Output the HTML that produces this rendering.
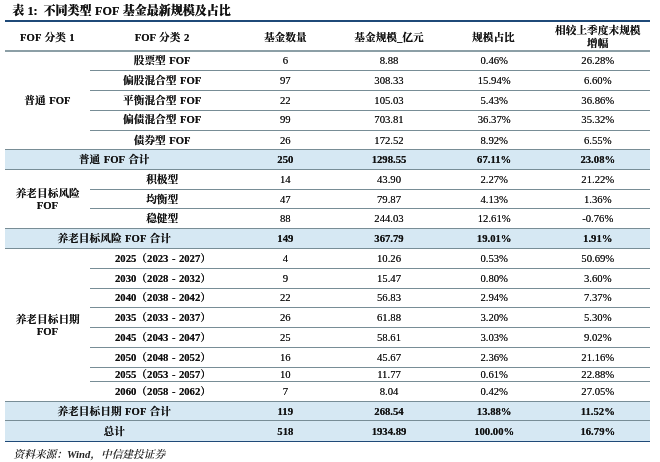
<!DOCTYPE html>
<html lang="zh-CN">
<head>
<meta charset="utf-8">
<title>表 1</title>
<style>
html,body{margin:0;padding:0;background:#fff;}
body{width:660px;height:462px;position:relative;overflow:hidden;font-family:"Liberation Serif","Noto Serif CJK SC",serif;color:#111;}
.t{position:absolute;text-align:center;text-shadow:0 0 0.5px rgba(0,0,0,0.75);font-size:10.7px;white-space:nowrap;}
.b{font-weight:bold;word-spacing:0.8px;}
.h{position:absolute;height:1.15px;background:#788d96;}
.hk{position:absolute;height:1.6px;background:#1f4a78;}
.band{position:absolute;background:#d6e8f3;}
.title span{position:absolute;top:0;text-shadow:0 0 0.5px rgba(0,0,0,0.7);}
.title span.l{font-size:12.2px;}
.title{position:absolute;left:0;top:3.3px;line-height:16px;font-size:12px;font-weight:900;white-space:nowrap;color:#111;font-family:"Liberation Serif","Noto Serif CJK SC",serif;}
.src{position:absolute;left:13.5px;top:446.6px;line-height:14px;font-size:10.7px;font-weight:600;font-style:italic;white-space:nowrap;color:#222;}
</style>
</head>
<body>
<div class="band" style="left:5.3px;top:149.6px;width:645.2px;height:19.70px"></div>
<div class="band" style="left:5.3px;top:228.6px;width:645.2px;height:19.70px"></div>
<div class="band" style="left:5.3px;top:401.4px;width:645.2px;height:19.40px"></div>
<div class="band" style="left:5.3px;top:420.8px;width:645.2px;height:20.20px"></div>
<div class="h" style="left:5.3px;top:50.0px;width:645.2px;height:1.5px;background:#8c9fa6"></div>
<div class="h" style="left:90.2px;top:70.10px;width:560.3px"></div>
<div class="h" style="left:90.2px;top:89.80px;width:560.3px"></div>
<div class="h" style="left:90.2px;top:109.50px;width:560.3px"></div>
<div class="h" style="left:90.2px;top:129.50px;width:560.3px"></div>
<div class="h" style="left:5.3px;top:149.10px;width:645.2px"></div>
<div class="h" style="left:5.3px;top:168.80px;width:645.2px"></div>
<div class="h" style="left:90.2px;top:188.50px;width:560.3px"></div>
<div class="h" style="left:90.2px;top:208.30px;width:560.3px"></div>
<div class="h" style="left:5.3px;top:228.10px;width:645.2px"></div>
<div class="h" style="left:5.3px;top:247.80px;width:645.2px"></div>
<div class="h" style="left:90.2px;top:267.50px;width:560.3px"></div>
<div class="h" style="left:90.2px;top:287.50px;width:560.3px"></div>
<div class="h" style="left:90.2px;top:307.00px;width:560.3px"></div>
<div class="h" style="left:90.2px;top:326.60px;width:560.3px"></div>
<div class="h" style="left:90.2px;top:346.80px;width:560.3px"></div>
<div class="h" style="left:90.2px;top:366.80px;width:560.3px"></div>
<div class="h" style="left:90.2px;top:381.00px;width:560.3px"></div>
<div class="h" style="left:5.3px;top:400.90px;width:645.2px"></div>
<div class="h" style="left:5.3px;top:420.30px;width:645.2px"></div>
<div class="hk" style="left:5.3px;top:20.4px;width:645.2px;height:2px"></div>
<div class="hk" style="left:5.3px;top:440.7px;width:645.2px"></div>
<div class="title"><span style="left:12.3px">表 </span><span class="l" style="left:27.4px">1: </span><span style="left:43.6px">不同类型 </span><span class="l" style="left:95.0px">FOF </span><span style="left:122.8px">基金最新规模及占比</span></div>
<div class="t b" style="left:-72.60px;top:29.90px;width:240px;line-height:14px">FOF 分类 1</div>
<div class="t b" style="left:42.00px;top:29.90px;width:240px;line-height:14px">FOF 分类 2</div>
<div class="t b" style="left:165.30px;top:29.90px;width:240px;line-height:14px">基金数量</div>
<div class="t b" style="left:269.00px;top:29.90px;width:240px;line-height:14px">基金规模_亿元</div>
<div class="t b" style="left:373.40px;top:29.90px;width:240px;line-height:14px">规模占比</div>
<div class="t b" style="left:477.80px;top:23.15px;width:240px;line-height:14px">相较上季度末规模</div>
<div class="t b" style="left:477.80px;top:36.15px;width:240px;line-height:14px">增幅</div>
<div class="t b" style="left:42.20px;top:53.15px;width:240px;line-height:14px">股票型 FOF</div>
<div class="t " style="left:165.30px;top:53.15px;width:240px;line-height:14px">6</div>
<div class="t " style="left:269.00px;top:53.15px;width:240px;line-height:14px">8.88</div>
<div class="t " style="left:374.20px;top:53.15px;width:240px;line-height:14px">0.46%</div>
<div class="t " style="left:477.80px;top:53.15px;width:240px;line-height:14px">26.28%</div>
<div class="t b" style="left:42.20px;top:73.15px;width:240px;line-height:14px">偏股混合型 FOF</div>
<div class="t " style="left:165.30px;top:73.15px;width:240px;line-height:14px">97</div>
<div class="t " style="left:269.00px;top:73.15px;width:240px;line-height:14px">308.33</div>
<div class="t " style="left:374.20px;top:73.15px;width:240px;line-height:14px">15.94%</div>
<div class="t " style="left:477.80px;top:73.15px;width:240px;line-height:14px">6.60%</div>
<div class="t b" style="left:42.20px;top:93.15px;width:240px;line-height:14px">平衡混合型 FOF</div>
<div class="t " style="left:165.30px;top:93.15px;width:240px;line-height:14px">22</div>
<div class="t " style="left:269.00px;top:93.15px;width:240px;line-height:14px">105.03</div>
<div class="t " style="left:374.20px;top:93.15px;width:240px;line-height:14px">5.43%</div>
<div class="t " style="left:477.80px;top:93.15px;width:240px;line-height:14px">36.86%</div>
<div class="t b" style="left:42.20px;top:112.15px;width:240px;line-height:14px">偏债混合型 FOF</div>
<div class="t " style="left:165.30px;top:112.15px;width:240px;line-height:14px">99</div>
<div class="t " style="left:269.00px;top:112.15px;width:240px;line-height:14px">703.81</div>
<div class="t " style="left:374.20px;top:112.15px;width:240px;line-height:14px">36.37%</div>
<div class="t " style="left:477.80px;top:112.15px;width:240px;line-height:14px">35.32%</div>
<div class="t b" style="left:42.20px;top:133.15px;width:240px;line-height:14px">债券型 FOF</div>
<div class="t " style="left:165.30px;top:133.15px;width:240px;line-height:14px">26</div>
<div class="t " style="left:269.00px;top:133.15px;width:240px;line-height:14px">172.52</div>
<div class="t " style="left:374.20px;top:133.15px;width:240px;line-height:14px">8.92%</div>
<div class="t " style="left:477.80px;top:133.15px;width:240px;line-height:14px">6.55%</div>
<div class="t b" style="left:-5.80px;top:152.15px;width:240px;line-height:14px">普通 FOF 合计</div>
<div class="t b" style="left:165.30px;top:152.15px;width:240px;line-height:14px">250</div>
<div class="t b" style="left:269.00px;top:152.15px;width:240px;line-height:14px">1298.55</div>
<div class="t b" style="left:374.20px;top:152.15px;width:240px;line-height:14px">67.11%</div>
<div class="t b" style="left:477.80px;top:152.15px;width:240px;line-height:14px">23.08%</div>
<div class="t b" style="left:42.20px;top:172.15px;width:240px;line-height:14px">积极型</div>
<div class="t " style="left:165.30px;top:172.15px;width:240px;line-height:14px">14</div>
<div class="t " style="left:269.00px;top:172.15px;width:240px;line-height:14px">43.90</div>
<div class="t " style="left:374.20px;top:172.15px;width:240px;line-height:14px">2.27%</div>
<div class="t " style="left:477.80px;top:172.15px;width:240px;line-height:14px">21.22%</div>
<div class="t b" style="left:42.20px;top:192.15px;width:240px;line-height:14px">均衡型</div>
<div class="t " style="left:165.30px;top:192.15px;width:240px;line-height:14px">47</div>
<div class="t " style="left:269.00px;top:192.15px;width:240px;line-height:14px">79.87</div>
<div class="t " style="left:374.20px;top:192.15px;width:240px;line-height:14px">4.13%</div>
<div class="t " style="left:477.80px;top:192.15px;width:240px;line-height:14px">1.36%</div>
<div class="t b" style="left:42.20px;top:211.15px;width:240px;line-height:14px">稳健型</div>
<div class="t " style="left:165.30px;top:211.15px;width:240px;line-height:14px">88</div>
<div class="t " style="left:269.00px;top:211.15px;width:240px;line-height:14px">244.03</div>
<div class="t " style="left:374.20px;top:211.15px;width:240px;line-height:14px">12.61%</div>
<div class="t " style="left:477.80px;top:211.15px;width:240px;line-height:14px">-0.76%</div>
<div class="t b" style="left:-5.80px;top:231.15px;width:240px;line-height:14px">养老目标风险 FOF 合计</div>
<div class="t b" style="left:165.30px;top:231.15px;width:240px;line-height:14px">149</div>
<div class="t b" style="left:269.00px;top:231.15px;width:240px;line-height:14px">367.79</div>
<div class="t b" style="left:374.20px;top:231.15px;width:240px;line-height:14px">19.01%</div>
<div class="t b" style="left:477.80px;top:231.15px;width:240px;line-height:14px">1.91%</div>
<div class="t b" style="left:43.00px;top:251.15px;width:240px;line-height:14px">2025（2023 - 2027）</div>
<div class="t " style="left:165.30px;top:251.15px;width:240px;line-height:14px">4</div>
<div class="t " style="left:269.00px;top:251.15px;width:240px;line-height:14px">10.26</div>
<div class="t " style="left:374.20px;top:251.15px;width:240px;line-height:14px">0.53%</div>
<div class="t " style="left:477.80px;top:251.15px;width:240px;line-height:14px">50.69%</div>
<div class="t b" style="left:43.00px;top:271.15px;width:240px;line-height:14px">2030（2028 - 2032）</div>
<div class="t " style="left:165.30px;top:271.15px;width:240px;line-height:14px">9</div>
<div class="t " style="left:269.00px;top:271.15px;width:240px;line-height:14px">15.47</div>
<div class="t " style="left:374.20px;top:271.15px;width:240px;line-height:14px">0.80%</div>
<div class="t " style="left:477.80px;top:271.15px;width:240px;line-height:14px">3.60%</div>
<div class="t b" style="left:43.00px;top:290.15px;width:240px;line-height:14px">2040（2038 - 2042）</div>
<div class="t " style="left:165.30px;top:290.15px;width:240px;line-height:14px">22</div>
<div class="t " style="left:269.00px;top:290.15px;width:240px;line-height:14px">56.83</div>
<div class="t " style="left:374.20px;top:290.15px;width:240px;line-height:14px">2.94%</div>
<div class="t " style="left:477.80px;top:290.15px;width:240px;line-height:14px">7.37%</div>
<div class="t b" style="left:43.00px;top:310.15px;width:240px;line-height:14px">2035（2033 - 2037）</div>
<div class="t " style="left:165.30px;top:310.15px;width:240px;line-height:14px">26</div>
<div class="t " style="left:269.00px;top:310.15px;width:240px;line-height:14px">61.88</div>
<div class="t " style="left:374.20px;top:310.15px;width:240px;line-height:14px">3.20%</div>
<div class="t " style="left:477.80px;top:310.15px;width:240px;line-height:14px">5.30%</div>
<div class="t b" style="left:43.00px;top:330.15px;width:240px;line-height:14px">2045（2043 - 2047）</div>
<div class="t " style="left:165.30px;top:330.15px;width:240px;line-height:14px">25</div>
<div class="t " style="left:269.00px;top:330.15px;width:240px;line-height:14px">58.61</div>
<div class="t " style="left:374.20px;top:330.15px;width:240px;line-height:14px">3.03%</div>
<div class="t " style="left:477.80px;top:330.15px;width:240px;line-height:14px">9.02%</div>
<div class="t b" style="left:43.00px;top:350.15px;width:240px;line-height:14px">2050（2048 - 2052）</div>
<div class="t " style="left:165.30px;top:350.15px;width:240px;line-height:14px">16</div>
<div class="t " style="left:269.00px;top:350.15px;width:240px;line-height:14px">45.67</div>
<div class="t " style="left:374.20px;top:350.15px;width:240px;line-height:14px">2.36%</div>
<div class="t " style="left:477.80px;top:350.15px;width:240px;line-height:14px">21.16%</div>
<div class="t b" style="left:43.00px;top:367.15px;width:240px;line-height:14px">2055（2053 - 2057）</div>
<div class="t " style="left:165.30px;top:367.15px;width:240px;line-height:14px">10</div>
<div class="t " style="left:269.00px;top:367.15px;width:240px;line-height:14px">11.77</div>
<div class="t " style="left:374.20px;top:367.15px;width:240px;line-height:14px">0.61%</div>
<div class="t " style="left:477.80px;top:367.15px;width:240px;line-height:14px">22.88%</div>
<div class="t b" style="left:43.00px;top:384.15px;width:240px;line-height:14px">2060（2058 - 2062）</div>
<div class="t " style="left:165.30px;top:384.15px;width:240px;line-height:14px">7</div>
<div class="t " style="left:269.00px;top:384.15px;width:240px;line-height:14px">8.04</div>
<div class="t " style="left:374.20px;top:384.15px;width:240px;line-height:14px">0.42%</div>
<div class="t " style="left:477.80px;top:384.15px;width:240px;line-height:14px">27.05%</div>
<div class="t b" style="left:-5.80px;top:404.15px;width:240px;line-height:14px">养老目标日期 FOF 合计</div>
<div class="t b" style="left:165.30px;top:404.15px;width:240px;line-height:14px">119</div>
<div class="t b" style="left:269.00px;top:404.15px;width:240px;line-height:14px">268.54</div>
<div class="t b" style="left:374.20px;top:404.15px;width:240px;line-height:14px">13.88%</div>
<div class="t b" style="left:477.80px;top:404.15px;width:240px;line-height:14px">11.52%</div>
<div class="t b" style="left:-5.80px;top:424.15px;width:240px;line-height:14px">总计</div>
<div class="t b" style="left:165.30px;top:424.15px;width:240px;line-height:14px">518</div>
<div class="t b" style="left:269.00px;top:424.15px;width:240px;line-height:14px">1934.89</div>
<div class="t b" style="left:374.20px;top:424.15px;width:240px;line-height:14px">100.00%</div>
<div class="t b" style="left:477.80px;top:424.15px;width:240px;line-height:14px">16.79%</div>
<div class="t b" style="left:-72.60px;top:93.30px;width:240px;line-height:14px">普通 FOF</div>
<div class="t b" style="left:-72.30px;top:186.15px;width:240px;line-height:14px">养老目标风险</div>
<div class="t b" style="left:-72.60px;top:198.15px;width:240px;line-height:14px">FOF</div>
<div class="t b" style="left:-72.30px;top:312.15px;width:240px;line-height:14px">养老目标日期</div>
<div class="t b" style="left:-72.60px;top:324.15px;width:240px;line-height:14px">FOF</div>
<div class="src">资料来源：Wind，中信建投证券</div>
</body>
</html>
